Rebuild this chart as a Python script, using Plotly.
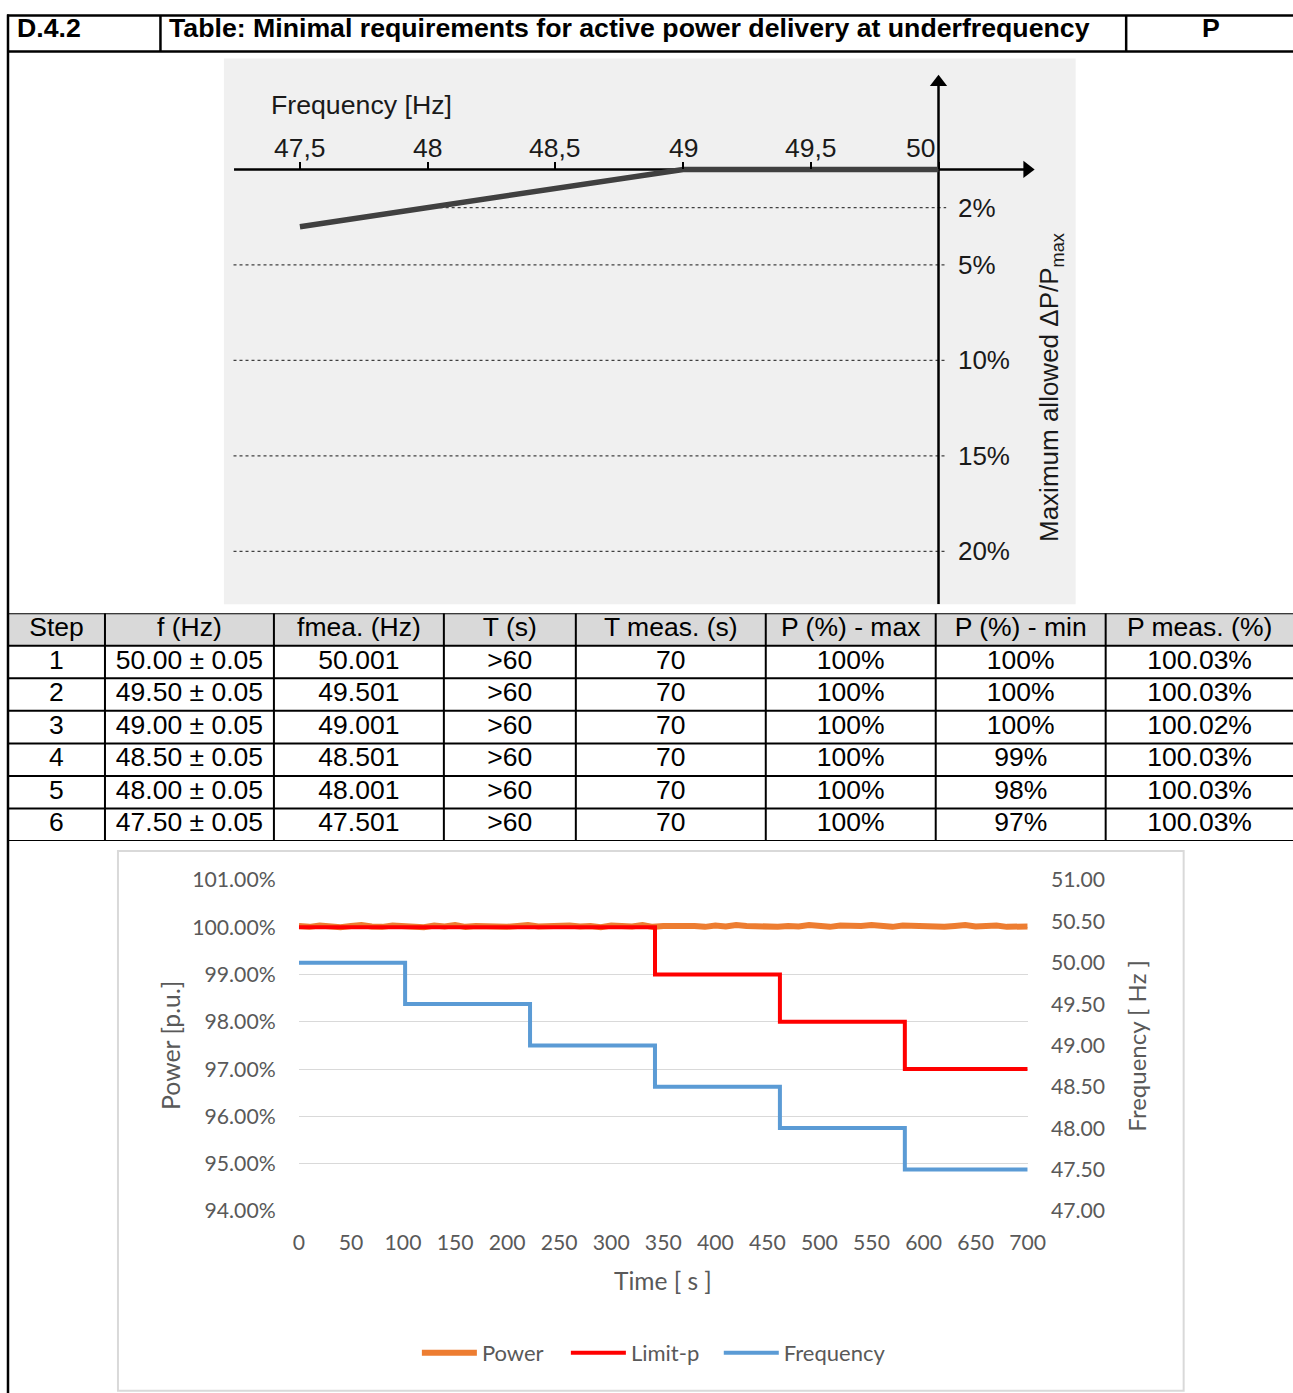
import plotly.graph_objects as go

# Layout positions below are given in page pixels; the figure is rendered
# slightly reduced and offset inside the page, so page pixels are mapped
# back to figure fractions through this scale and offset.
VIEW_SCALE = 0.982
VIEW_OX, VIEW_OY = 5.0, 12.5
W, H = 1312, 1406

SANS = "Liberation Sans, Arial, sans-serif"
CHART = "Lato, Carlito, Calibri, sans-serif"
GREY_TXT = "#595959"

# ---------------- header ----------------
section_id = "D.4.2"
section_title = "Table: Minimal requirements for active power delivery at underfrequency"
section_tag = "P"

# ---------------- droop diagram ----------------
freq_ticks = [47.5, 48, 48.5, 49, 49.5, 50]
freq_tick_text = ["47,5", "48", "48,5", "49", "49,5", "50"]
dp_levels = [2, 5, 10, 15, 20]
dp_level_text = ["2%", "5%", "10%", "15%", "20%"]
dp_level_start = [48, 47.24, 47.24, 47.24, 47.24]
dp_level_end = 50.03
curve_freq = [47.5, 49, 50]
curve_dp = [3, 0, 0]

# ---------------- results table ----------------
table_header = ["Step", "f (Hz)", "fmea. (Hz)", "T (s)", "T meas. (s)",
                "P (%) - max", "P (%) - min", "P meas. (%)"]
steps = [1, 2, 3, 4, 5, 6]
f_set = [50.00, 49.50, 49.00, 48.50, 48.00, 47.50]
f_tol = 0.05
f_meas = [50.001, 49.501, 49.001, 48.501, 48.001, 47.501]
t_req = [">60", ">60", ">60", ">60", ">60", ">60"]
t_meas = [70, 70, 70, 70, 70, 70]
p_max = [100, 100, 100, 100, 100, 100]
p_min = [100, 100, 100, 99, 98, 97]
p_meas = [100.03, 100.03, 100.02, 100.03, 100.03, 100.03]
col_widths = [97, 169, 170, 132, 190, 170, 170, 188]

# ---------------- recorded test ----------------
step_start_s = [0, 102, 222, 342, 462, 582]
test_end_s = 700
power_time_s = list(range(0, 701, 10))
power_pu = [
    1.0003, 1.0001, 1.0004, 1.0002, 1.0000, 1.0003, 1.0005, 1.0002, 1.0001, 1.0004,
    1.0002, 1.0003, 1.0000, 1.0004, 1.0002, 1.0005, 1.0001, 1.0003, 1.0002, 1.0004,
    1.0001, 1.0003, 1.0005, 1.0002, 1.0003, 1.0001, 1.0004, 1.0002, 1.0003, 1.0000,
    1.0004, 1.0003, 1.0002, 1.0005, 1.0001, 1.0003, 1.0004, 1.0002, 1.0003, 1.0001,
    1.0004, 1.0002, 1.0005, 1.0003, 1.0002, 1.0004, 1.0001, 1.0003, 1.0002, 1.0005,
    1.0003, 1.0001, 1.0004, 1.0002, 1.0003, 1.0005, 1.0002, 1.0001, 1.0004, 1.0003,
    1.0002, 1.0004, 1.0001, 1.0003, 1.0005, 1.0002, 1.0003, 1.0004, 1.0001, 1.0003,
    1.0002,
]


def px(x):
    return min(max((x - VIEW_OX) / VIEW_SCALE / W, 0), 1)


def py(y):
    return min(max(1 - (y - VIEW_OY) / VIEW_SCALE / H, 0), 1)


fig = go.Figure()

# ---- test chart: power, power limit and grid frequency ----
step_t = step_start_s + [test_end_s]
fig.add_trace(go.Scatter(
    x=power_time_s, y=power_pu, name="Power", mode="lines",
    line=dict(color="#ed7d31", width=6), xaxis="x", yaxis="y", legend="legend"))
fig.add_trace(go.Scatter(
    x=step_t, y=[p / 100 for p in p_min] + [p_min[-1] / 100], name="Limit-p",
    mode="lines", line=dict(color="#ff0000", width=4, shape="hv"),
    xaxis="x", yaxis="y", legend="legend"))
fig.add_trace(go.Scatter(
    x=step_t, y=f_meas + [f_meas[-1]], name="Frequency", mode="lines",
    line=dict(color="#5b9bd5", width=4, shape="hv"), xaxis="x", yaxis="y2",
    legend="legend2"))

# ---- droop diagram ----
for lvl, x0 in zip(dp_levels, dp_level_start):
    fig.add_trace(go.Scatter(
        x=[x0, dp_level_end], y=[lvl, lvl], mode="lines", showlegend=False,
        hoverinfo="skip", line=dict(color="#404040", width=1.3, dash="dot"),
        xaxis="x3", yaxis="y3"))
# axes of the diagram with arrowheads
fig.add_trace(go.Scatter(
    x=[47.242, 50.34], y=[0, 0], mode="lines", showlegend=False, hoverinfo="skip",
    line=dict(color="black", width=2.5), xaxis="x3", yaxis="y3"))
fig.add_trace(go.Scatter(
    x=[50, 50], y=[22.77, -4.5], mode="lines", showlegend=False, hoverinfo="skip",
    line=dict(color="black", width=2.5), xaxis="x3", yaxis="y3"))
fig.add_trace(go.Scatter(
    x=[50.347], y=[0], mode="markers", showlegend=False, hoverinfo="skip",
    marker=dict(symbol="triangle-right", size=15, color="black", line=dict(width=0)),
    xaxis="x3", yaxis="y3"))
fig.add_trace(go.Scatter(
    x=[50], y=[-4.57], mode="markers", showlegend=False, hoverinfo="skip",
    marker=dict(symbol="triangle-up", size=15, color="black", line=dict(width=0)),
    xaxis="x3", yaxis="y3"))
fig.add_trace(go.Scatter(
    x=curve_freq, y=curve_dp, mode="lines", showlegend=False, hoverinfo="skip",
    line=dict(color="#404040", width=5.5), xaxis="x3", yaxis="y3"))

# ---- table text ----
col_edges = [0]
for w in col_widths:
    col_edges.append(col_edges[-1] + w)
col_centers = [(a + b) / 2 for a, b in zip(col_edges[:-1], col_edges[1:])]

fig.add_trace(go.Scatter(
    x=col_centers, y=[0.5] * len(table_header), text=table_header, mode="text",
    textposition="middle center", showlegend=False, hoverinfo="skip",
    textfont=dict(family=SANS, size=26.5, color="black"), xaxis="x4", yaxis="y4"))

rows = []
for i in range(len(steps)):
    rows.append([
        str(steps[i]),
        f"{f_set[i]:.2f} ± {f_tol:.2f}",
        f"{f_meas[i]:.3f}",
        t_req[i],
        str(t_meas[i]),
        f"{p_max[i]}%",
        f"{p_min[i]}%",
        f"{p_meas[i]:.2f}%",
    ])
cell_x, cell_y, cell_txt = [], [], []
for r, row in enumerate(rows):
    for c, txt in enumerate(row):
        cell_x.append(col_centers[c])
        cell_y.append(r + 1.5)
        cell_txt.append(txt)
fig.add_trace(go.Scatter(
    x=cell_x, y=cell_y, text=cell_txt, mode="text", textposition="middle center",
    showlegend=False, hoverinfo="skip",
    textfont=dict(family=SANS, size=26.5, color="black"), xaxis="x4", yaxis="y4"))

shapes = []
n_rows = len(steps) + 1
# table header fill and grid
shapes.append(dict(type="rect", xref="x4", yref="y4", x0=0, x1=col_edges[-1], y0=0, y1=1,
                   fillcolor="#d9d9d9", line=dict(width=0), layer="below"))
for r in range(n_rows + 1):
    shapes.append(dict(type="line", xref="x4", yref="y4", x0=0, x1=col_edges[-1],
                       y0=r, y1=r, line=dict(color="black", width=2)))
for e in col_edges[1:-1]:
    shapes.append(dict(type="line", xref="x4", yref="y4", x0=e, x1=e, y0=0, y1=n_rows,
                       line=dict(color="black", width=2)))

# page frame
frame = dict(color="black", width=2.5)
shapes += [
    dict(type="line", xref="paper", yref="paper", x0=px(6), x1=1, y0=py(14), y1=py(14), line=frame),
    dict(type="line", xref="paper", yref="paper", x0=px(6), x1=1, y0=py(50), y1=py(50), line=frame),
    dict(type="line", xref="paper", yref="paper", x0=px(7), x1=px(7), y0=py(13), y1=0, line=frame),
    dict(type="line", xref="paper", yref="paper", x0=px(159.5), x1=px(159.5), y0=py(14), y1=py(50), line=frame),
    dict(type="line", xref="paper", yref="paper", x0=px(1125.5), x1=px(1125.5), y0=py(14), y1=py(50), line=frame),
]
# diagram background
shapes.append(dict(type="rect", xref="paper", yref="paper", x0=px(223), x1=px(1075),
                   y0=py(603), y1=py(57), fillcolor="#f0f0f0", line=dict(width=0), layer="below"))
# chart frame
shapes.append(dict(type="rect", xref="paper", yref="paper", x0=px(117), x1=px(1183),
                   y0=py(1390), y1=py(850), line=dict(color="#d9d9d9", width=2),
                   fillcolor="rgba(0,0,0,0)", layer="below"))

annotations = [
    dict(xref="paper", yref="paper", x=px(14), y=py(27), xanchor="left", yanchor="middle",
         text=f"<b>{section_id}</b>", showarrow=False, font=dict(family=SANS, size=26.7, color="black")),
    dict(xref="paper", yref="paper", x=px(166), y=py(27), xanchor="left", yanchor="middle",
         text=f"<b>{section_title}</b>", showarrow=False, font=dict(family=SANS, size=26.7, color="black")),
    dict(xref="paper", yref="paper", x=px(1210), y=py(27), xanchor="center", yanchor="middle",
         text=f"<b>{section_tag}</b>", showarrow=False, font=dict(family=SANS, size=26.7, color="black")),
    dict(xref="paper", yref="paper", x=px(268), y=py(104), xanchor="left", yanchor="middle",
         text="Frequency [Hz]", showarrow=False, font=dict(family=SANS, size=26.7, color="#1a1a1a")),
    dict(xref="paper", yref="paper", x=px(1050), y=py(386), xanchor="center", yanchor="middle",
         text="Maximum allowed ΔP/P<sub>max</sub>", textangle=-90, showarrow=False,
         font=dict(family=SANS, size=26, color="#1a1a1a")),
    # chart axis titles
    dict(xref="paper", yref="paper", x=px(662), y=py(1280), xanchor="center", yanchor="middle",
         text="Time [ s ]", showarrow=False, font=dict(family=CHART, size=24.5, color=GREY_TXT)),
    dict(xref="paper", yref="paper", x=px(170), y=py(1044), xanchor="center", yanchor="middle",
         text="Power [p.u.]", textangle=-90, showarrow=False,
         font=dict(family=CHART, size=24.8, color=GREY_TXT)),
    dict(xref="paper", yref="paper", x=px(1136), y=py(1045), xanchor="center", yanchor="middle",
         text="Frequency [ Hz ]", textangle=-90, showarrow=False,
         font=dict(family=CHART, size=24, color=GREY_TXT)),
]
for f, label in zip(freq_ticks, freq_tick_text):
    annotations.append(dict(
        xref="x3", yref="y3", x=f, y=0, yshift=21.4, xshift=-18.3 if f == curve_freq[-1] else 0,
        text=label, showarrow=False, xanchor="center", yanchor="middle",
        font=dict(family=SANS, size=26.5, color="#1a1a1a")))

tick_font = dict(family=CHART, size=21.2, color=GREY_TXT)
legend_font = dict(family=CHART, size=22, color=GREY_TXT)
table_right = W * VIEW_SCALE + VIEW_OX - 7
fig.update_layout(
    width=W, height=H, autosize=False,
    margin=dict(l=0, r=0, t=0, b=0),
    paper_bgcolor="white", plot_bgcolor="rgba(0,0,0,0)",
    showlegend=True,
    legend=dict(orientation="h", x=px(416), xanchor="left", y=py(1352), yanchor="middle",
                font=legend_font, bgcolor="rgba(0,0,0,0)",
                itemwidth=55, entrywidth=79, tracegroupgap=0),
    legend2=dict(orientation="h", x=px(718), xanchor="left", y=py(1352), yanchor="middle",
                 font=legend_font, bgcolor="rgba(0,0,0,0)",
                 itemwidth=55, tracegroupgap=0),
    xaxis=dict(domain=[px(298), px(1027)], range=[0, test_end_s], dtick=50, tick0=0,
               showgrid=False, zeroline=False, showline=False, ticks="outside", ticklen=13,
               tickcolor="rgba(0,0,0,0)", tickfont=tick_font, anchor="y"),
    yaxis=dict(domain=[py(1210), py(879)], range=[0.94, 1.01], dtick=0.01, tick0=0.94,
               tickformat=".2%", showgrid=True, gridcolor="#d9d9d9", gridwidth=1.3,
               zeroline=False, showline=False, ticks="outside", ticklen=18,
               tickcolor="rgba(0,0,0,0)", tickfont=tick_font, anchor="x"),
    yaxis2=dict(overlaying="y", side="right", range=[47, 51], dtick=0.5, tick0=47,
                tickformat=".2f", showgrid=False, zeroline=False, showline=False,
                ticks="outside", ticklen=18, tickcolor="rgba(0,0,0,0)", tickfont=tick_font,
                anchor="x"),
    xaxis3=dict(domain=[px(223), px(1075)], range=[47.2025, 50.537], anchor="free",
                position=py(168), side="top", tickvals=freq_ticks, showticklabels=False,
                ticks="outside", ticklen=7, tickwidth=1.5, tickcolor="black",
                showgrid=False, zeroline=False, showline=False),
    yaxis3=dict(domain=[py(603), py(57)], range=[22.77, -5.81], anchor="free",
                position=px(937), side="right", tickvals=dp_levels, ticktext=dp_level_text,
                ticks="outside", ticklen=14, tickcolor="rgba(0,0,0,0)",
                tickfont=dict(family=SANS, size=26, color="#1a1a1a"),
                showgrid=False, zeroline=False, showline=False),
    # table grid in page pixels measured from the left page border
    xaxis4=dict(domain=[px(7), 1], range=[0, table_right], visible=False, anchor="y4"),
    yaxis4=dict(domain=[py(840), py(612)], range=[n_rows, 0], visible=False, anchor="x4"),
    shapes=shapes,
    annotations=annotations,
)

fig.write_html("out.html")
